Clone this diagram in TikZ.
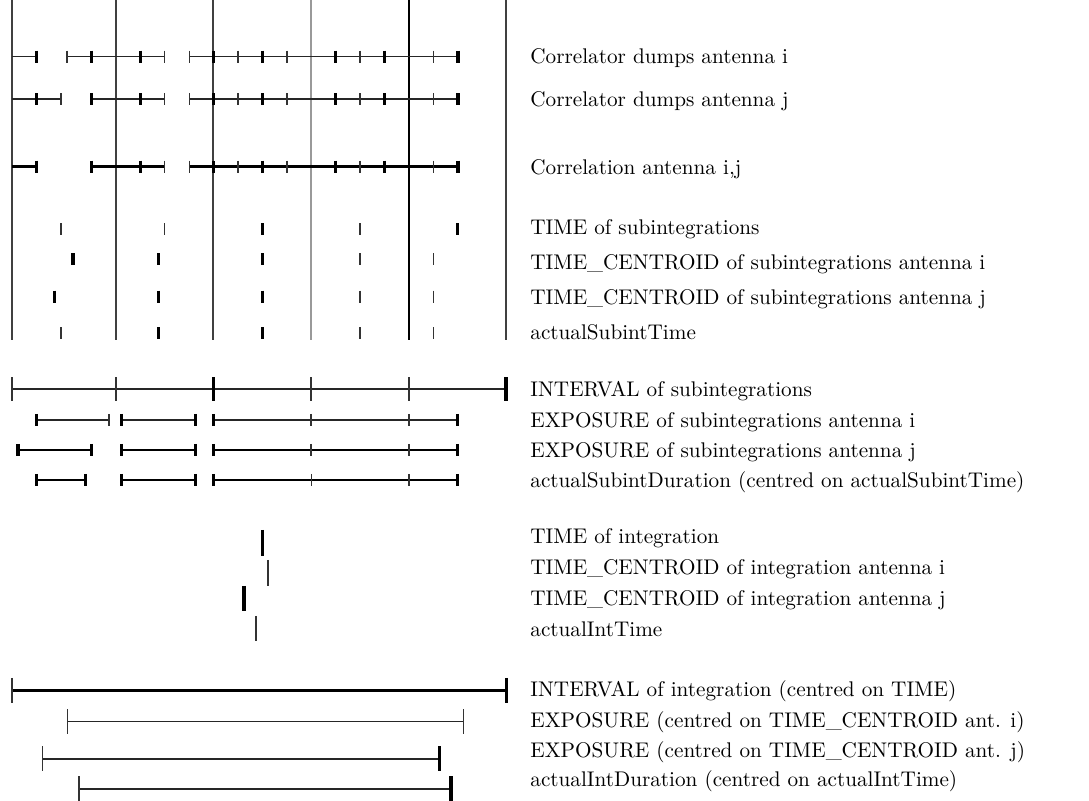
\documentclass[tikz,border=0pt]{standalone}
\begin{document}
\begin{tikzpicture}[x=0.5pt,y=-0.5pt,
  vline/.style={line width=0.95pt,black!75},
  vlinelight/.style={line width=0.95pt,black!40},
  vlinedark/.style={line width=0.95pt,black},
  bar/.style={line width=0.8pt,black!85},
  thickbar/.style={line width=1.4pt,black},
  tk/.style={line width=0.8pt,black!80},
  tkb/.style={line width=1.6pt,black},
  lbl/.style={anchor=base west,inner sep=0pt,font=\fontsize{10.6}{12.7}\selectfont}]
\useasboundingbox (0,0) rectangle (1089,801);

% tick marks: style, row, half height, list of positions
\newcommand\tickrow[4]{\foreach \tx in {#4}{\draw[#1] (\tx,{#2-#3}) -- (\tx,{#2+#3});}}
% horizontal segments: style, row, list of a/b pairs
\newcommand\segrow[3]{\foreach \sa/\sb in {#3}{\draw[#1] (\sa,#2) -- (\sb,#2);}}

% ---- subintegration boundaries
\draw[vline] (12,0) -- (12,340.5);
\draw[vline] (115.7,0) -- (115.7,340.5);
\draw[vline] (213,0) -- (213,340.5);
\draw[vlinelight] (311,0) -- (311,340.5);
\draw[vlinedark] (408.7,0) -- (408.7,340.5);
\draw[vline] (506,0) -- (506,340.5);

% ---- correlator dumps, antenna i
\segrow{bar}{56.7}{12/36.7,67/164.3,189.3/458}
\tickrow{tk}{56.7}{6}{67,164.3,189.3,238,286.7,360,433.3}
\tickrow{tkb}{56.7}{6}{36.7,91.3,140.3,213.3,262.5,335.7,384.3,458}

% ---- correlator dumps, antenna j
\segrow{bar}{99.3}{12/60.7,91.3/164.3,189.3/458}
\tickrow{tk}{99.3}{6}{60.7,164.3,189.3,238,286.7,360,433.3}
\tickrow{tkb}{99.3}{6}{36.7,91.3,140.3,213.3,262.5,335.7,384.3,458}

% ---- correlation i,j
\segrow{thickbar}{166.7}{12/36.7,91.3/164.3,189.3/458}
\tickrow{tk}{166.7}{6}{164.3,189.3,238,286.7,360,433.3}
\tickrow{tkb}{166.7}{6}{36.7,91.3,140.3,213.3,262.5,335.7,384.3,458}

% ---- subintegration times
\tickrow{tk}{229.3}{6}{60.7,164.3,360}
\tickrow{tkb}{229.3}{6}{262.3,457.7}
\tickrow{tkb}{259.3}{6}{73,158.3,262.3}
\tickrow{tk}{259.3}{6}{360,433.3}
\tickrow{tkb}{296.7}{6}{54.7,158.3,262.3}
\tickrow{tk}{296.7}{6}{360,433.3}
\tickrow{tk}{333.3}{6}{60.7,360,433.3}
\tickrow{tkb}{333.3}{6}{158.3,262.3}

% ---- subintegration intervals and exposures
\segrow{bar}{389.3}{12/506}
\tickrow{tk}{389.3}{12}{12,115.7,311,408.7}
\tickrow{tkb}{389.3}{12}{213.3,506}

\segrow{bar}{420}{36.3/109,121.3/195.3,213.3/457.7}
\tickrow{tkb}{420}{6}{36.3,121.3,195.3,213.3,457.7}
\tickrow{tk}{420}{6}{109,311,408.7}

\segrow{thickbar}{450}{18/91.3,121.3/195.3,213.3/457.7}
\tickrow{tkb}{450}{6}{18,91.3,121.3,195.3,213.3,457.7}
\tickrow{tk}{450}{6}{311,408.7}

\segrow{thickbar}{480}{36.3/85.3,121.3/195.3,213.3/457.7}
\tickrow{tkb}{480}{6}{36.3,85.3,121.3,195.3,213.3,457.7}
\tickrow{tk}{480}{6}{311.3,408.7}

% ---- integration times
\draw[tkb] (262.3,530) -- (262.3,555.7);
\draw[tk] (268,560) -- (268,586);
\draw[tkb] (244,586) -- (244,611);
\draw[tk] (256,616) -- (256,641);

% ---- integration interval and exposures
\segrow{thickbar}{690.3}{12/506.3}
\tickrow{tk}{690.3}{12.5}{12}
\tickrow{tkb}{690.3}{12.5}{506.3}

\segrow{bar}{721.7}{67.3/463.3}
\tickrow{tk}{721.7}{12.5}{67.3,463.3}

\segrow{bar}{759}{42.3/439.3}
\tickrow{tk}{759}{12.5}{42.3}
\tickrow{tkb}{759}{12.5}{439.3}

\segrow{bar}{789}{79/451}
\tickrow{tk}{789}{12.5}{79}
\tickrow{tkb}{789}{12.5}{451}

% ---- labels
\node[lbl] (l1)  at (530,63.7)  {Correlator dumps antenna i};
\node[lbl] (l2)  at (530,106.7) {Correlator dumps antenna j};
\node[lbl] (l3)  at (530,174.2) {Correlation antenna i,j};
\node[lbl] (l4)  at (530,234.7) {TIME of subintegrations};
\node[lbl] (l5)  at (530,269.7) {TIME\_CENTROID of subintegrations antenna i};
\node[lbl] (l6)  at (530,304.7) {TIME\_CENTROID of subintegrations antenna j};
\node[lbl] (l7)  at (530,339.7) {actualSubintTime};
\node[lbl] (l8)  at (530,396.7) {INTERVAL of subintegrations};
\node[lbl] (l9)  at (530,427.2) {EXPOSURE of subintegrations antenna i};
\node[lbl] (l10) at (530,457.2) {EXPOSURE of subintegrations antenna j};
\node[lbl] (l11) at (530,487.2) {actualSubintDuration (centred on actualSubintTime)};
\node[lbl] (l12) at (530,543.2) {TIME of integration};
\node[lbl] (l13) at (530,574.2) {TIME\_CENTROID of integration antenna i};
\node[lbl] (l14) at (530,605.2) {TIME\_CENTROID of integration antenna j};
\node[lbl] (l15) at (530,636.2) {actualIntTime};
\node[lbl] (l16) at (530,696.2) {INTERVAL of integration (centred on TIME)};
\node[lbl] (l17) at (530,727.2) {EXPOSURE (centred on TIME\_CENTROID ant. i)};
\node[lbl] (l18) at (530,757.2) {EXPOSURE (centred on TIME\_CENTROID ant. j)};
\node[lbl] (l19) at (530,786.2) {actualIntDuration (centred on actualIntTime)};
\end{tikzpicture}
\end{document}
